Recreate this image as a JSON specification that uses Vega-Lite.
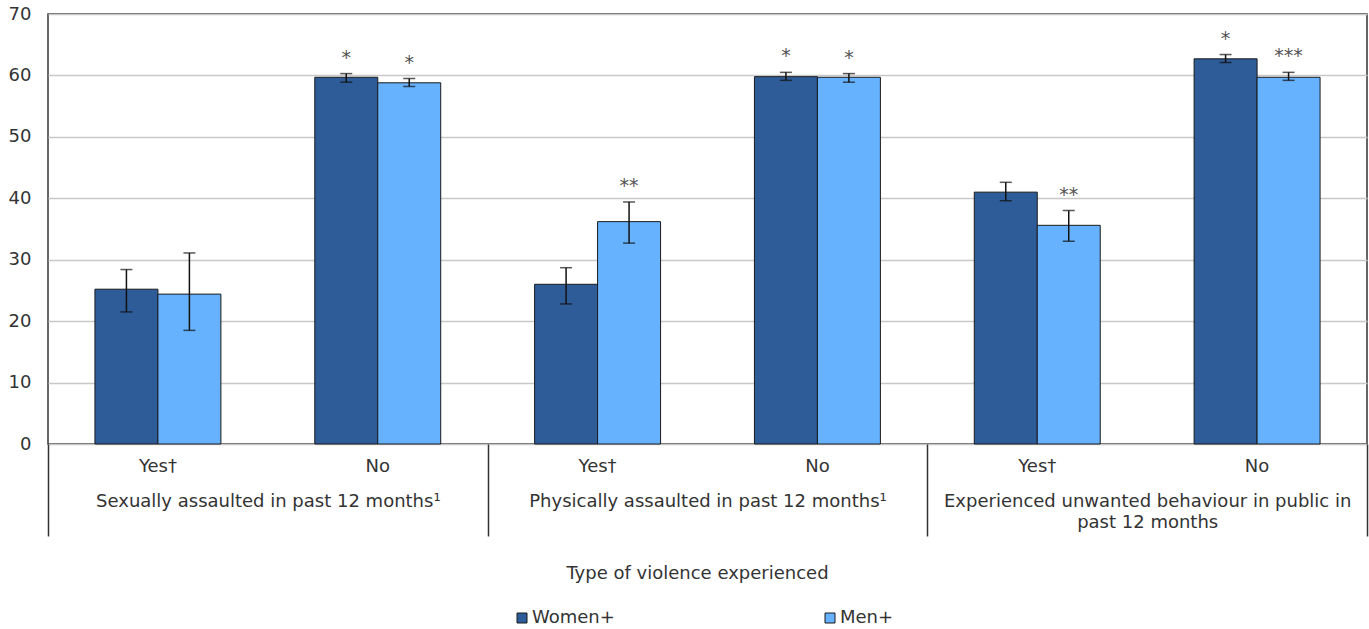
{
  "$schema": "https://vega.github.io/schema/vega-lite/v6.json",
  "width": 1319,
  "height": 430,
  "autosize": {"type": "none"},
  "padding": {"left": 48, "top": 14, "right": 2, "bottom": 185},
  "config": {
    "font": "DejaVu Sans",
    "view": {"stroke": "#333333", "strokeWidth": 1.5},
    "axis": {"labelFont": "DejaVu Sans", "labelFontSize": 18, "labelColor": "#333333", "titleFont": "DejaVu Sans", "titleFontSize": 18, "titleColor": "#333333", "titleFontWeight": "normal"},
    "legend": {"labelFont": "DejaVu Sans", "labelFontSize": 18, "labelColor": "#333333"}
  },
  "data": {
    "values": [
      {"group": "Sexually assaulted in past 12 months¹", "cat": "G1|Yes†", "sex": "Women+", "value": 25.2, "lo": 21.5, "hi": 28.4, "sig": ""},
      {"group": "Sexually assaulted in past 12 months¹", "cat": "G1|Yes†", "sex": "Men+", "value": 24.4, "lo": 18.5, "hi": 31.1, "sig": ""},
      {"group": "Sexually assaulted in past 12 months¹", "cat": "G1|No", "sex": "Women+", "value": 59.7, "lo": 58.9, "hi": 60.3, "sig": "*"},
      {"group": "Sexually assaulted in past 12 months¹", "cat": "G1|No", "sex": "Men+", "value": 58.8, "lo": 58.2, "hi": 59.5, "sig": "*"},
      {"group": "Physically assaulted in past 12 months¹", "cat": "G2|Yes†", "sex": "Women+", "value": 26.0, "lo": 22.8, "hi": 28.7, "sig": ""},
      {"group": "Physically assaulted in past 12 months¹", "cat": "G2|Yes†", "sex": "Men+", "value": 36.2, "lo": 32.7, "hi": 39.4, "sig": "**"},
      {"group": "Physically assaulted in past 12 months¹", "cat": "G2|No", "sex": "Women+", "value": 59.8, "lo": 59.2, "hi": 60.5, "sig": "*"},
      {"group": "Physically assaulted in past 12 months¹", "cat": "G2|No", "sex": "Men+", "value": 59.7, "lo": 58.9, "hi": 60.3, "sig": "*"},
      {"group": "Experienced unwanted behaviour in public in past 12 months", "cat": "G3|Yes†", "sex": "Women+", "value": 41.0, "lo": 39.6, "hi": 42.6, "sig": ""},
      {"group": "Experienced unwanted behaviour in public in past 12 months", "cat": "G3|Yes†", "sex": "Men+", "value": 35.6, "lo": 33.0, "hi": 38.0, "sig": "**"},
      {"group": "Experienced unwanted behaviour in public in past 12 months", "cat": "G3|No", "sex": "Women+", "value": 62.7, "lo": 62.1, "hi": 63.4, "sig": "*"},
      {"group": "Experienced unwanted behaviour in public in past 12 months", "cat": "G3|No", "sex": "Men+", "value": 59.7, "lo": 59.2, "hi": 60.5, "sig": "***"}
    ]
  },
  "layer": [
    {
      "encoding": {
        "x": {
          "field": "cat", "type": "nominal", "sort": null,
          "scale": {"paddingInner": 0.427, "paddingOuter": 0.2135},
          "axis": {"title": null, "orient": "bottom", "ticks": false, "domain": false, "labelAngle": 0, "labelPadding": 13, "labelExpr": "split(datum.value, '|')[1]"}
        },
        "xOffset": {"field": "sex", "type": "nominal", "sort": ["Women+", "Men+"], "scale": {"paddingInner": 0, "paddingOuter": 0}}
      },
      "layer": [
        {
          "mark": {"type": "bar", "stroke": "#1a1a1a", "strokeWidth": 1},
          "encoding": {
            "y": {"field": "value", "type": "quantitative", "scale": {"domain": [0, 70]},
              "axis": {"title": null, "values": [0, 10, 20, 30, 40, 50, 60, 70], "ticks": false, "domain": false, "labelPadding": 17, "gridColor": "#c8c8c8", "gridWidth": 1.5}},
            "color": {"field": "sex", "type": "nominal", "sort": ["Women+", "Men+"],
              "scale": {"domain": ["Women+", "Men+"], "range": ["#2e5c98", "#66b2ff"]},
              "legend": {"title": null, "orient": "none", "legendX": 465, "legendY": 595, "direction": "horizontal", "symbolType": "square", "symbolSize": 100, "symbolStrokeColor": "#1a1a1a", "symbolStrokeWidth": 1, "columnPadding": 206, "labelOffset": 1}}
          }
        },
        {
          "mark": {"type": "rule", "color": "#111111", "strokeWidth": 1.5},
          "encoding": {"y": {"field": "lo", "type": "quantitative"}, "y2": {"field": "hi"}}
        },
        {
          "mark": {"type": "tick", "color": "#111111", "thickness": 1.5, "size": 12, "orient": "horizontal"},
          "encoding": {"y": {"field": "lo", "type": "quantitative"}}
        },
        {
          "mark": {"type": "tick", "color": "#111111", "thickness": 1.5, "size": 12, "orient": "horizontal"},
          "encoding": {"y": {"field": "hi", "type": "quantitative"}}
        },
        {
          "mark": {"type": "text", "color": "#555555", "fontSize": 19, "baseline": "alphabetic", "dy": -10},
          "encoding": {"y": {"field": "hi", "type": "quantitative"}, "text": {"field": "sig"}}
        }
      ]
    },
    {
      "mark": {"type": "point", "opacity": 0},
      "encoding": {
        "x": {
          "field": "group", "type": "nominal", "sort": null,
          "scale": {"paddingInner": 0, "paddingOuter": 0},
          "axis": {"orient": "bottom", "title": "Type of violence experienced", "titleX": 649, "titleY": 129, "titleBaseline": "middle", "titleAnchor": null,
            "domain": false, "ticks": true, "tickBand": "extent", "tickSize": 92, "tickColor": "#333333", "tickWidth": 1.5,
            "labelPadding": -44, "labelAngle": 0, "labelLimit": 0, "labelLineHeight": 21,
            "labelExpr": "datum.value == 'Experienced unwanted behaviour in public in past 12 months' ? ['Experienced unwanted behaviour in public in', 'past 12 months'] : datum.value"}
        },
        "y": {"field": "value", "type": "quantitative"}
      }
    }
  ],
  "resolve": {"scale": {"x": "independent"}, "axis": {"x": "independent"}}
}
